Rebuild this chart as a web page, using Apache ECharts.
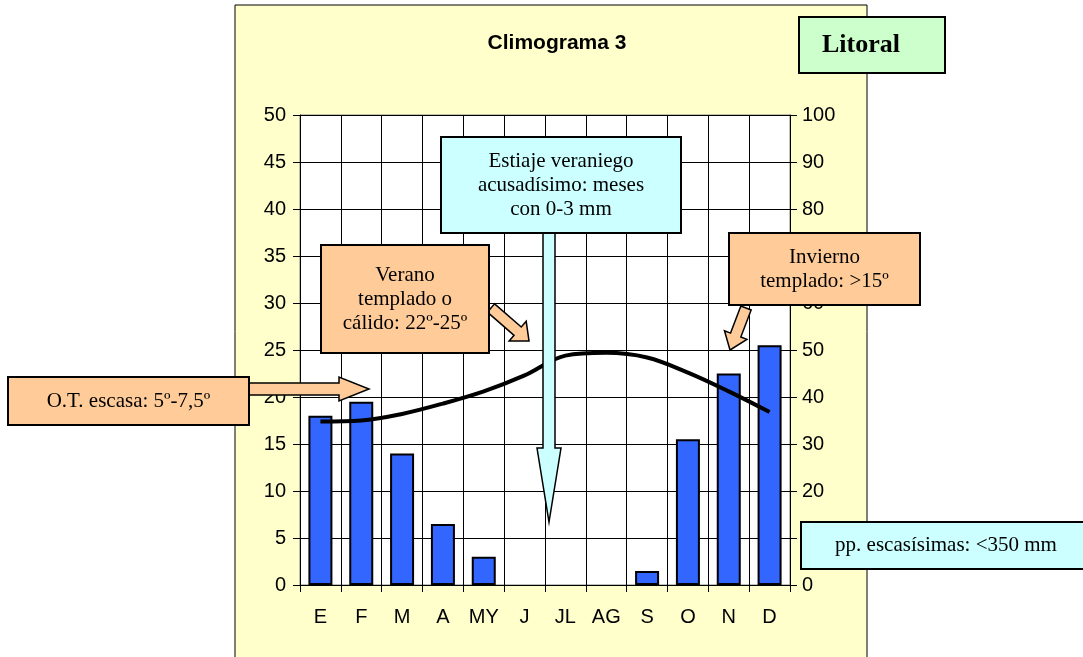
<!DOCTYPE html>
<html><head><meta charset="utf-8">
<script src="https://cdn.jsdelivr.net/npm/echarts@6/dist/echarts.min.js"></script>
<style>html,body{margin:0;padding:0;background:#fff}#c{width:1083px;height:657px}</style>
</head><body><div id="c"></div>
<script>
const months = ['E','F','M','A','MY','J','JL','AG','S','O','N','D'];
const precipitation = [36, 39, 28, 13, 6, 0, 0, 0, 3, 31, 45, 51];
const temperature = [17.4, 17.5, 18.2, 19.3, 20.6, 22.3, 24.4, 24.7, 24.2, 22.6, 20.6, 18.4];
const tempTicks = [0, 50, 5];
const precTicks = [0, 100, 10];

function blockArrow(x1, y1, x2, y2, sw, hw, hl) {
  const dx = x2 - x1, dy = y2 - y1, L = Math.hypot(dx, dy);
  const ux = dx / L, uy = dy / L, nx = -uy, ny = ux;
  const bx = x2 - ux * hl, by = y2 - uy * hl;
  return [
    [x1 + nx * sw / 2, y1 + ny * sw / 2],
    [bx + nx * sw / 2, by + ny * sw / 2],
    [bx + nx * hw / 2, by + ny * hw / 2],
    [x2, y2],
    [bx - nx * hw / 2, by - ny * hw / 2],
    [bx - nx * sw / 2, by - ny * sw / 2],
    [x1 - nx * sw / 2, y1 - ny * sw / 2]
  ];
}
const serif = '"Liberation Serif","Times New Roman",serif';
const sans = '"Liberation Sans",Arial,sans-serif';
function box(x, y, w, h, fill, text, font, tx) {
  return {
    type: 'group', z: 100, children: [
      { type: 'rect', shape: { x: x, y: y, width: w, height: h }, style: { fill: fill, stroke: '#000', lineWidth: 2 }, z: 100 },
      { type: 'text', x: tx != null ? tx : x + w / 2, y: y + h / 2, z: 101,
        style: { text: text, fill: '#000', font: font || ('21px ' + serif), align: 'center', verticalAlign: 'middle', lineHeight: 24 } }
    ]
  };
}
function arrow(pts, fill) {
  return { type: 'polygon', z: 99, shape: { points: pts }, style: { fill: fill, stroke: '#000', lineWidth: 1.5 } };
}
const orange = '#FFCC99', cyan = '#CCFFFF';

const chart = echarts.init(document.getElementById('c'));
chart.setOption({
  animation: false,
  backgroundColor: '#fff',
  title: {
    text: 'Climograma 3', left: 552, top: 28, textAlign: 'center',
    textStyle: { fontFamily: sans, fontWeight: 'bold', fontSize: 21, color: '#000' }
  },
  grid: { left: 300, right: 293, top: 115, bottom: 72, show: true, backgroundColor: '#fff', borderColor: '#808080', borderWidth: 1, z: -5 },
  xAxis: {
    type: 'category', data: months, boundaryGap: true,
    axisLine: { lineStyle: { color: '#000', width: 1 } },
    axisTick: { show: true, length: 7, lineStyle: { color: '#000' } },
    axisLabel: { color: '#000', fontSize: 20, fontFamily: sans, margin: 22 },
    splitLine: { show: true, lineStyle: { color: '#000', width: 1 } }
  },
  yAxis: [
    { type: 'value', min: tempTicks[0], max: tempTicks[1], interval: tempTicks[2], position: 'left',
      axisLine: { show: true, lineStyle: { color: '#000' } },
      axisTick: { show: true, length: 7, lineStyle: { color: '#000' } },
      axisLabel: { color: '#000', fontSize: 20, fontFamily: sans, margin: 14 },
      splitLine: { show: true, lineStyle: { color: '#000', width: 1 } } },
    { type: 'value', min: precTicks[0], max: precTicks[1], interval: precTicks[2], position: 'right',
      axisLine: { show: true, lineStyle: { color: '#000' } },
      axisTick: { show: true, length: 7, lineStyle: { color: '#000' } },
      axisLabel: { color: '#000', fontSize: 20, fontFamily: sans, margin: 12 },
      splitLine: { show: false } }
  ],
  series: [
    { type: 'bar', yAxisIndex: 1, barWidth: 24, z: 3,
      data: precipitation.map(v => v === 0 ? { value: v, itemStyle: { borderWidth: 0, opacity: 0 } } : v),
      itemStyle: { color: '#3366FF', borderColor: '#000', borderWidth: 2 } },
    { type: 'line', yAxisIndex: 0, data: temperature, smooth: 0.35, symbol: 'none', z: 4,
      lineStyle: { color: '#000', width: 4 } }
  ],
  graphic: [
    { type: 'rect', z: -10, silent: true, shape: { x: 235, y: 5, width: 632, height: 660 }, style: { fill: '#FFFFCC', stroke: '#000', lineWidth: 1 } },
    box(799, 17, 146, 56, '#CCFFCC', 'Litoral', 'bold 26px ' + serif, 861),
    arrow(blockArrow(549, 233, 549, 522, 12, 24, 74), cyan),
    box(441, 137, 240, 96, cyan, 'Estiaje veraniego\nacusadísimo: meses\ncon 0-3 mm'),
    arrow(blockArrow(491, 308, 529, 341, 11, 26, 15), orange),
    box(321, 245, 168, 108, orange, 'Verano\ntemplado o\ncálido: 22º-25º'),
    arrow(blockArrow(746, 308, 730, 350, 11, 24, 16), orange),
    box(729, 233, 191, 72, orange, 'Invierno\ntemplado: >15º'),
    arrow(blockArrow(245, 389, 369, 389, 12, 24, 30), orange),
    box(8, 377, 241, 48, orange, 'O.T. escasa: 5º-7,5º'),
    box(801, 522, 290, 47, cyan, 'pp. escasísimas: <350 mm')
  ]
});
</script></body></html>
